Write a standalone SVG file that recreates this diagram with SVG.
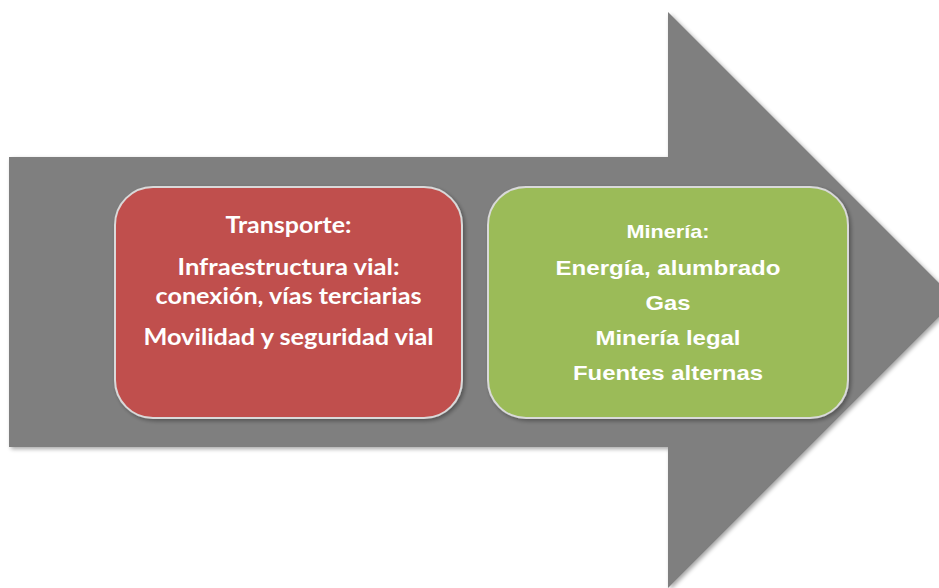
<svg xmlns="http://www.w3.org/2000/svg" width="939" height="588" viewBox="0 0 939 588">
<defs>
<filter id="sh" x="-10%" y="-10%" width="120%" height="120%">
<feGaussianBlur in="SourceAlpha" stdDeviation="2"/>
<feOffset dx="2" dy="2" result="b"/>
<feComponentTransfer><feFuncA type="linear" slope="0.35"/></feComponentTransfer>
<feMerge><feMergeNode/><feMergeNode in="SourceGraphic"/></feMerge>
</filter>
</defs>
<style>
.box{stroke:#d9d9d9;stroke-width:2}
.t1{font-family:Lato,"Liberation Sans",sans-serif;font-weight:bold;font-size:22px;fill:#ffffff;text-anchor:middle}
.t2{font-family:"Liberation Sans",Arial,sans-serif;font-weight:bold;font-size:21px;fill:#ffffff;text-anchor:middle}
</style>
<rect width="939" height="588" fill="#ffffff"/>
<g id="arrow">
<polygon points="9,157 668,157 668,12 956,300 668,588 668,447 9,447" fill="#7f7f7f" filter="url(#sh)"/>
</g>
<g id="connectors"></g>
<g id="transporte">
<rect class="box" x="115" y="187" width="347" height="231" rx="38" fill="#c0504d" filter="url(#sh)"/>
<text class="t1" x="288.5" y="233" textLength="126" lengthAdjust="spacingAndGlyphs">Transporte:</text>
<text class="t1" x="288.5" y="275" textLength="222" lengthAdjust="spacingAndGlyphs">Infraestructura vial:</text>
<text class="t1" x="288.5" y="304" textLength="266" lengthAdjust="spacingAndGlyphs">conexión, vías terciarias</text>
<text class="t1" x="288.5" y="345" textLength="290" lengthAdjust="spacingAndGlyphs">Movilidad y seguridad vial</text>
</g>
<g id="mineria">
<rect class="box" x="488" y="187" width="360" height="231" rx="38" fill="#9bbb59" filter="url(#sh)"/>
<text class="t2" x="668" y="238" style="font-size:19px" textLength="83" lengthAdjust="spacingAndGlyphs">Minería:</text>
<text class="t2" x="668" y="275" textLength="225" lengthAdjust="spacingAndGlyphs">Energía, alumbrado</text>
<text class="t2" x="668" y="310" textLength="45" lengthAdjust="spacingAndGlyphs">Gas</text>
<text class="t2" x="668" y="345" textLength="145" lengthAdjust="spacingAndGlyphs">Minería legal</text>
<text class="t2" x="668" y="380" textLength="190" lengthAdjust="spacingAndGlyphs">Fuentes alternas</text>
</g>
</svg>
